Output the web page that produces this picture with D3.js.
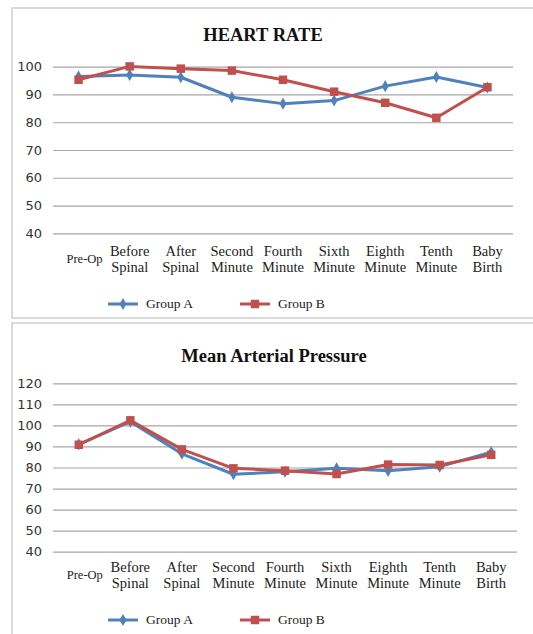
<!DOCTYPE html>
<html>
<head>
<meta charset="utf-8">
<script src="https://cdn.jsdelivr.net/npm/d3@7"></script>
<style>
  html, body { margin: 0; padding: 0; background: #fff; }
  svg { display: block; }
</style>
</head>
<body>
<svg id="chart" width="533" height="634"></svg>
<script>
// Time points (label lines)
const categories = [
  ["Pre-Op"], ["Before", "Spinal"], ["After", "Spinal"], ["Second", "Minute"],
  ["Fourth", "Minute"], ["Sixth", "Minute"], ["Eighth", "Minute"], ["Tenth", "Minute"],
  ["Baby", "Birth"]
];
const seriesNames = ["Group A", "Group B"];

// Heart rate
const hrGroupA = [96.5, 97, 96.2, 89, 86.7, 87.8, 93, 96.3, 92.5];
const hrGroupB = [95.3, 100.1, 99.3, 98.6, 95.3, 91, 87, 81.6, 92.6];
const hrTicks = [40, 50, 60, 70, 80, 90, 100];

// Mean arterial pressure
const mapGroupA = [91, 101.8, 86.5, 76.8, 78, 79.6, 78.4, 80.4, 87.3];
const mapGroupB = [90.8, 102.4, 88.6, 79.6, 78.5, 76.9, 81.4, 81.2, 86];
const mapTicks = [40, 50, 60, 70, 80, 90, 100, 110, 120];

const colors = { "Group A": "#4f81bd", "Group B": "#c0504d" };

const svg = d3.select("#chart");
const serif = "'Liberation Serif', 'Times New Roman', serif";
const sans = "'DejaVu Sans', 'Open Sans', sans-serif";

function drawPanel(cfg) {
  const g = svg.append("g");

  // panel frame
  g.append("rect")
    .attr("x", 12).attr("y", cfg.boxTop)
    .attr("width", 540).attr("height", cfg.boxHeight)
    .attr("fill", "none").attr("stroke", "#cfcfcf").attr("stroke-width", 1.5);

  g.append("text")
    .attr("x", cfg.titleX).attr("y", cfg.titleY)
    .attr("text-anchor", "middle")
    .attr("font-family", serif).attr("font-weight", "bold")
    .attr("font-size", 18.5).attr("fill", "#111")
    .text(cfg.title);

  const x = d3.scalePoint()
    .domain(d3.range(categories.length))
    .range([cfg.left, cfg.right])
    .padding(0.5);

  const y = d3.scaleLinear()
    .domain([d3.min(cfg.ticks), d3.max(cfg.ticks)])
    .range([cfg.bottom, cfg.top]);

  // gridlines + y labels via axis
  const yAxis = d3.axisLeft(y).tickValues(cfg.ticks)
    .tickSize(-(cfg.right - cfg.left)).tickPadding(11);
  const ya = g.append("g").attr("transform", `translate(${cfg.left},0)`).call(yAxis);
  ya.select(".domain").remove();
  ya.selectAll(".tick line").attr("stroke", "#a6a6a6").attr("stroke-width", 1.2);
  ya.selectAll(".tick text")
    .attr("font-family", sans).attr("font-size", 13).attr("fill", "#333");

  // category labels
  const xl = g.append("g");
  categories.forEach((lines, i) => {
    const t = xl.append("text")
      .attr("text-anchor", "middle")
      .attr("font-family", serif)
      .attr("font-size", lines.length === 1 ? 12.5 : 14.5)
      .attr("fill", "#222");
    const cx = x(i) + (i === 0 ? 6 : 0);
    if (lines.length === 1) {
      t.append("tspan").attr("x", cx).attr("y", cfg.labelY + 7).text(lines[0]);
    } else {
      lines.forEach((s, k) => {
        t.append("tspan").attr("x", cx).attr("y", cfg.labelY + k * 16).text(s);
      });
    }
  });

  const line = d3.line().x((d, i) => x(i)).y(d => y(d));
  const data = [
    { name: "Group A", values: cfg.a },
    { name: "Group B", values: cfg.b }
  ];

  data.forEach(s => {
    g.append("path")
      .datum(s.values)
      .attr("d", line)
      .attr("fill", "none")
      .attr("stroke", colors[s.name])
      .attr("stroke-width", 3)
      .attr("stroke-linejoin", "round");
  });

  data.forEach(s => {
    const sym = s.name === "Group A" ? d3.symbolDiamond : d3.symbolSquare;
    const size = s.name === "Group A" ? 42 : 72;
    g.selectAll(null).data(s.values).enter().append("path")
      .attr("d", d3.symbol().type(sym).size(size))
      .attr("transform", (d, i) => `translate(${x(i)},${y(d)})`)
      .attr("fill", colors[s.name]);
  });

  // legend
  const legX = [108, 240];
  seriesNames.forEach((n, i) => {
    const lg = g.append("g").attr("transform", `translate(${legX[i]},${cfg.legendY})`);
    lg.append("line").attr("x1", 0).attr("x2", 30).attr("y1", 0).attr("y2", 0)
      .attr("stroke", colors[n]).attr("stroke-width", 3);
    lg.append("path")
      .attr("d", d3.symbol().type(i === 0 ? d3.symbolDiamond : d3.symbolSquare).size(i === 0 ? 42 : 72))
      .attr("transform", "translate(15,0)")
      .attr("fill", colors[n]);
    lg.append("text").attr("x", 38).attr("y", 4)
      .attr("font-family", serif).attr("font-size", 13.5).attr("fill", "#222")
      .text(n);
  });
}

drawPanel({
  title: "HEART RATE", titleX: 263, titleY: 41,
  boxTop: 8, boxHeight: 310,
  left: 53, right: 513, top: 66.7, bottom: 233.3,
  ticks: hrTicks, a: hrGroupA, b: hrGroupB,
  labelY: 256, legendY: 304
});

drawPanel({
  title: "Mean Arterial Pressure", titleX: 274, titleY: 362,
  boxTop: 323, boxHeight: 330,
  left: 53, right: 517, top: 383.3, bottom: 551.7,
  ticks: mapTicks, a: mapGroupA, b: mapGroupB,
  labelY: 572, legendY: 620
});
</script>
</body>
</html>
